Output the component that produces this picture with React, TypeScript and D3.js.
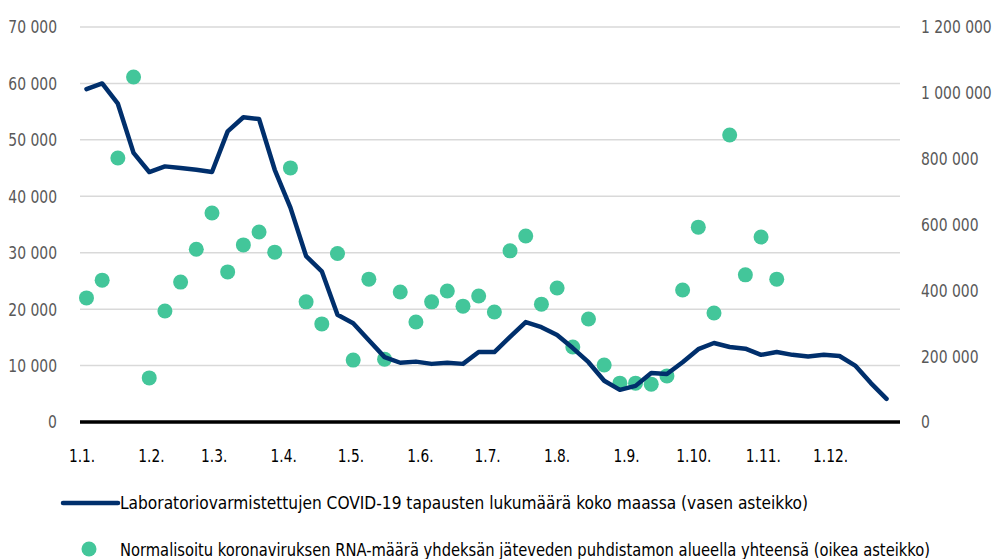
import React, { useEffect, useRef } from 'react';
import * as d3 from 'd3';

// viikoittaiset tapaukset (vasen asteikko), viikot alkaen ma 3.1.2022
const caseCounts = [
  59000, 60000, 56400, 47700, 44300, 45300, 45000, 44700, 44300, 51500,
  54000, 53700, 44700, 38000, 29400, 26700, 19000, 17500, 14500, 11500,
  10500, 10700, 10300, 10500, 10300, 12400, 12400, 15100, 17700, 16800,
  15400, 13100, 10600, 7300, 5700, 6400, 8700, 8500, 10600, 12900,
  14000, 13300, 13000, 11900, 12400, 11900, 11600, 11900, 11700, 10000,
  6900, 4100,
];

// RNA-määrä (oikea asteikko), samat viikot, loppuvuodelta ei arvoja
const rnaAmounts = [
  377000, 431000, 802000, 1048000, 134000, 337000, 425000, 525000, 635000, 456000,
  538000, 577000, 516000, 772000, 365000, 298000, 512000, 188000, 434000, 191000,
  395000, 304000, 365000, 398000, 352000, 383000, 334000, 520000, 565000, 358000,
  407000, 228000, 313000, 173000, 118000, 118000, 115000, 140000, 401000, 592000,
  331000, 872000, 447000, 562000, 434000,
];

const leftTicks = [0, 10000, 20000, 30000, 40000, 50000, 60000, 70000];
const rightTicks = [0, 200000, 400000, 600000, 800000, 1000000, 1200000];
const monthLabels = ['1.1.', '1.2.', '1.3.', '1.4.', '1.5.', '1.6.', '1.7.', '1.8.', '1.9.', '1.10.', '1.11.', '1.12.'];

const legendLine = 'Laboratoriovarmistettujen COVID-19 tapausten lukumäärä koko maassa (vasen asteikko)';
const legendDots = 'Normalisoitu koronaviruksen RNA-määrä yhdeksän jäteveden puhdistamon alueella yhteensä (oikea asteikko)';

const FONT = "'DejaVu Sans Condensed', 'DejaVu Sans', sans-serif";

// kapean fontin leveys: numerot ~9px, välit ja pisteet ~4px
const narrowWidth = (s: string) => s.split('').reduce((w, c) => w + (/[0-9]/.test(c) ? 8.9 : 4.2), 0);

export default function App() {
  const ref = useRef<SVGSVGElement | null>(null);

  useEffect(() => {
    if (!ref.current) return;
    const svg = d3.select(ref.current);
    svg.selectAll('*').remove();

    const width = 995, height = 559;
    const x0 = 82, x1 = 900, yTop = 27, yBase = 422;

    const weeks = d3.timeMonday.range(new Date(2022, 0, 3), new Date(2022, 11, 27));
    const xScale = d3.scaleTime().domain([new Date(2022, 0, 1), new Date(2023, 0, 1)]).range([x0, x1]);
    const yLeft = d3.scaleLinear().domain([0, 70000]).range([yBase, yTop]);
    const yRight = d3.scaleLinear().domain([0, 1200000]).range([yBase, yTop]);
    const fmt = (v: number) => d3.format(',')(v).replace(/,/g, ' ');

    svg.attr('width', width).attr('height', height).style('font-family', FONT);
    svg.append('rect').attr('width', width).attr('height', height).attr('fill', '#fff');

    // ruudukko
    svg.append('g').selectAll('line')
      .data(leftTicks.filter(t => t > 0))
      .join('line')
      .attr('x1', x0 - 2).attr('x2', x1)
      .attr('y1', d => yLeft(d)).attr('y2', d => yLeft(d))
      .attr('stroke', '#d9d9d9').attr('stroke-width', 1.5);

    // vasen asteikko
    svg.append('g').selectAll('text')
      .data(leftTicks)
      .join('text')
      .attr('x', 57).attr('y', d => yLeft(d))
      .attr('dy', '0.36em')
      .attr('text-anchor', 'end')
      .attr('fill', '#595959')
      .attr('textLength', d => narrowWidth(fmt(d)))
      .attr('lengthAdjust', 'spacingAndGlyphs')
      .style('font-size', '18px')
      .text(d => fmt(d));

    // oikea asteikko
    svg.append('g').selectAll('text')
      .data(rightTicks)
      .join('text')
      .attr('x', 921).attr('y', d => yRight(d))
      .attr('dy', '0.36em')
      .attr('fill', '#595959')
      .attr('textLength', d => narrowWidth(fmt(d)))
      .attr('lengthAdjust', 'spacingAndGlyphs')
      .style('font-size', '18px')
      .text(d => fmt(d));

    // x-akselin kuukaudet
    svg.append('g').selectAll('text')
      .data(monthLabels)
      .join('text')
      .attr('x', (d, i) => xScale(new Date(2022, i, 1)))
      .attr('y', 456)
      .attr('dy', '0.36em')
      .attr('text-anchor', 'middle')
      .attr('fill', '#000')
      .attr('textLength', d => narrowWidth(d))
      .attr('lengthAdjust', 'spacingAndGlyphs')
      .style('font-size', '18px')
      .text(d => d);

    // pisteet
    svg.append('g').selectAll('circle')
      .data(rnaAmounts)
      .join('circle')
      .attr('cx', (d, i) => xScale(weeks[i]))
      .attr('cy', d => yRight(d))
      .attr('r', 7.5)
      .attr('fill', '#43c69a');

    // tapausviiva
    const line = d3.line<number>()
      .x((d, i) => xScale(weeks[i]))
      .y(d => yLeft(d));
    svg.append('path')
      .datum(caseCounts)
      .attr('d', line)
      .attr('fill', 'none')
      .attr('stroke', '#002f6c')
      .attr('stroke-width', 4.5)
      .attr('stroke-linejoin', 'round')
      .attr('stroke-linecap', 'round');

    // nolla-akseli
    svg.append('line')
      .attr('x1', x0 - 2).attr('x2', x1)
      .attr('y1', yBase).attr('y2', yBase)
      .attr('stroke', '#000').attr('stroke-width', 3.5);

    // selite
    const lg = svg.append('g');
    lg.append('line')
      .attr('x1', 63).attr('x2', 118).attr('y1', 503).attr('y2', 503)
      .attr('stroke', '#002f6c').attr('stroke-width', 4.5).attr('stroke-linecap', 'round');
    lg.append('text')
      .attr('x', 120).attr('y', 503).attr('dy', '0.36em')
      .attr('textLength', 688).attr('lengthAdjust', 'spacingAndGlyphs')
      .style('font-size', '18px').attr('fill', '#000')
      .text(legendLine);
    lg.append('circle')
      .attr('cx', 89).attr('cy', 549).attr('r', 7.5).attr('fill', '#43c69a');
    lg.append('text')
      .attr('x', 120).attr('y', 550).attr('dy', '0.36em')
      .attr('textLength', 810).attr('lengthAdjust', 'spacingAndGlyphs')
      .style('font-size', '18px').attr('fill', '#000')
      .text(legendDots);
  }, []);

  return (
    <div style={{ position: 'absolute', left: 0, top: 0 }}>
      <svg ref={ref} style={{ display: 'block' }} />
    </div>
  );
}
